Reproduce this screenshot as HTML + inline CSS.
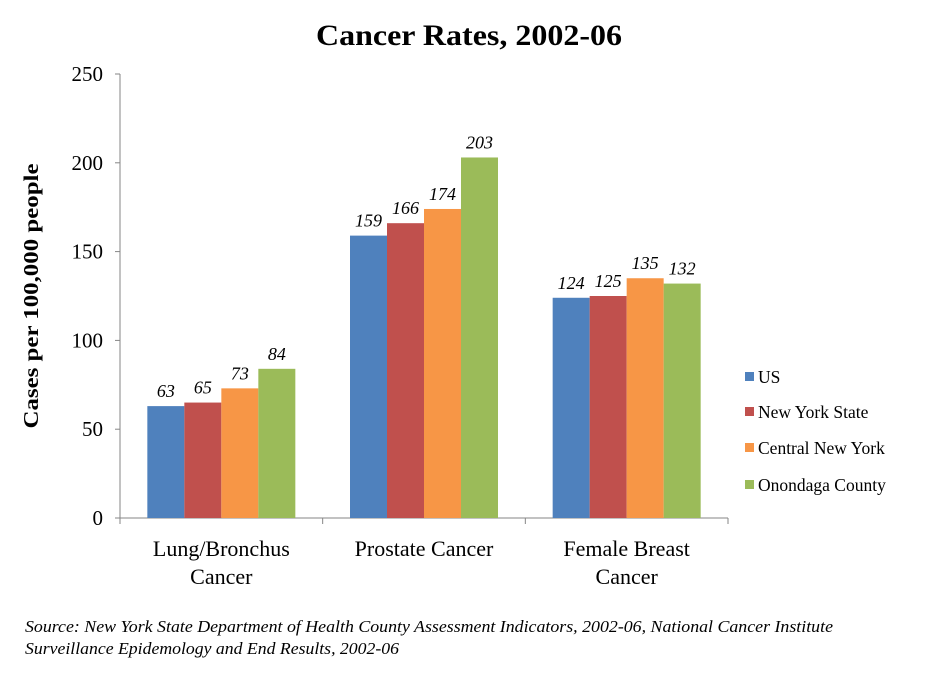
<!DOCTYPE html>
<html><head><meta charset="utf-8"><style>
body{margin:0;background:#fff;}
svg{display:block;font-family:"Liberation Serif",serif;}
</style></head><body>
<svg id="c" width="930" height="675"></svg>
<script>
const categories=[["Lung/Bronchus","Cancer"],["Prostate Cancer"],["Female Breast","Cancer"]];
const seriesNames=["US","New York State","Central New York","Onondaga County"];
const seriesColors=["#4f81bd","#c0504d","#f79646","#9bbb59"];
const usVals=[63,159,124];
const nysVals=[65,166,125];
const cnyVals=[73,174,135];
const onVals=[84,203,132];
const yTicks=[0,50,100,150,200,250];
const series=[usVals,nysVals,cnyVals,onVals];
const svg=document.getElementById('c');
const NS='http://www.w3.org/2000/svg';
const x0=120,x1=728,y0=518,y1=74,yMax=250;
const y=v=>y0-(v/yMax)*(y0-y1);
const gw=(x1-x0)/categories.length, bw=37;
function mk(t,a,txt){const e=document.createElementNS(NS,t);for(const k in a)e.setAttribute(k,a[k]);if(txt!==undefined)e.textContent=txt;svg.appendChild(e);return e;}
let e;
e=mk('text',{x:469,y:45,'text-anchor':'middle','font-size':30,'font-weight':'bold',textLength:306,lengthAdjust:'spacingAndGlyphs'},'Cancer Rates, 2002-06');


e=mk('text',{x:0,y:0,transform:'translate(38,296) rotate(-90)','text-anchor':'middle','font-size':21,'font-weight':'bold',textLength:265,lengthAdjust:'spacingAndGlyphs'},'Cases per 100,000 people');


e=mk('line',{x1:x0,y1:y1,x2:x0,y2:y0,stroke:'#868686'});


e=mk('line',{x1:x0,y1:y0,x2:x1,y2:y0,stroke:'#868686'});


yTicks.forEach(t=>{
 e=mk('line',{x1:x0-5,y1:y(t),x2:x0,y2:y(t),stroke:'#868686'});
 
 
 e=mk('text',{x:x0-17,y:y(t)+7,'text-anchor':'end','font-size':21},String(t));
 
 
});
for(let i=0;i<=categories.length;i++){
 e=mk('line',{x1:x0+i*gw,y1:y0,x2:x0+i*gw,y2:y0+6,stroke:'#868686'});
 
 
}
categories.forEach((c,i)=>{
 const cx=x0+gw*(i+0.5);
 c.forEach((ln,j)=>{
  e=mk('text',{x:cx,y:556+j*28,'text-anchor':'middle','font-size':22},ln);
  
  
 });
 series.forEach((s,k)=>{
  const bx=cx-2*bw+k*bw;
  e=mk('rect',{x:bx,y:y(s[i]),width:bw,height:y0-y(s[i]),fill:seriesColors[k]});
  
  
  e=mk('text',{x:bx+bw/2,y:y(s[i])-9,'text-anchor':'middle','font-size':18,'font-style':'italic'},String(s[i]));
  
  
 });
});
const ly=[377,412,448,485];
seriesNames.forEach((n,k)=>{
 e=mk('rect',{x:745,y:ly[k]-5,width:9,height:9,fill:seriesColors[k]});
 
 
 e=mk('text',{x:758,y:ly[k]+6,'font-size':17.5},n);
 
 
});
e=mk('text',{x:25,y:632,'font-size':17,'font-style':'italic',textLength:808,lengthAdjust:'spacingAndGlyphs'},'Source: New York State Department of Health County Assessment Indicators, 2002-06, National Cancer Institute');


e=mk('text',{x:25,y:654,'font-size':17,'font-style':'italic',textLength:374,lengthAdjust:'spacingAndGlyphs'},'Surveillance Epidemology and End Results, 2002-06');


</script>
</body></html>
